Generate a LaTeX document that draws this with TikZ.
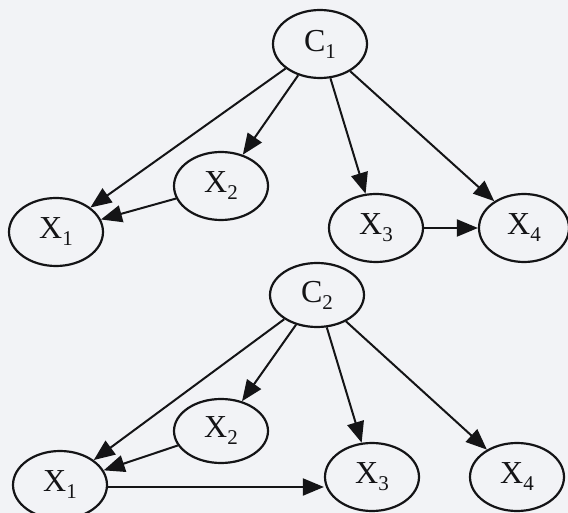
\documentclass[tikz,border=0pt]{standalone}
\usepackage{fontspec}
\setmainfont{Liberation Serif}
\usetikzlibrary{shapes.geometric,arrows.meta}
\definecolor{ink}{RGB}{20,20,22}
\definecolor{paper}{RGB}{242,243,246}
\newcommand{\lbl}[2]{#1{\fontsize{21}{21}\selectfont\raisebox{-7pt}{#2}}}
\tikzset{
  var/.style={ellipse, draw=ink, line width=2.2pt, inner sep=0pt,
    minimum width=94pt, minimum height=68pt, text=ink,
    font=\fontsize{32}{34}\selectfont},
  edge/.style={draw=ink, line width=2pt,
    -{Triangle[length=21pt,width=17pt]}}
}
\begin{document}
\begin{tikzpicture}[x=1pt,y=-1pt]
\fill[paper] (0,0) rectangle (568,513);
\clip (0,0) rectangle (568,513);
\useasboundingbox (0,0) rectangle (568,513);
% top graph
\node[var] (c1) at (320,44) {\lbl{C}{1}};
\node[var] (a1) at (56,232) {\lbl{X}{1}};
\node[var] (a2) at (221,186) {\lbl{X}{2}};
\node[var] (a3) at (376,228) {\lbl{X}{3}};
\node[var, minimum width=90pt] (a4) at (524,228) {\lbl{X}{4}};
\draw[edge] (c1) -- (a1);
\draw[edge] (c1) -- (a2);
\draw[edge] (c1) -- (a3);
\draw[edge] (c1) -- (a4);
\draw[edge] (a2) -- (a1);
\draw[edge] (a3) -- (a4);
% bottom graph
\node[var, minimum height=64pt] (c2) at (317,295) {\lbl{C}{2}};
\node[var] (b1) at (60,485) {\lbl{X}{1}};
\node[var, minimum height=64pt] (b2) at (221,431) {\lbl{X}{2}};
\node[var] (b3) at (372,477) {\lbl{X}{3}};
\node[var] (b4) at (517,477) {\lbl{X}{4}};
\draw[edge] (c2) -- (b1);
\draw[edge] (c2) -- (b2);
\draw[edge] (c2) -- (b3);
\draw[edge] (c2) -- (b4);
\draw[edge] (b2) -- (b1);
\draw[edge] (b1.east |- 0,487) -- (b3.west |- 0,487);
\end{tikzpicture}
\end{document}
